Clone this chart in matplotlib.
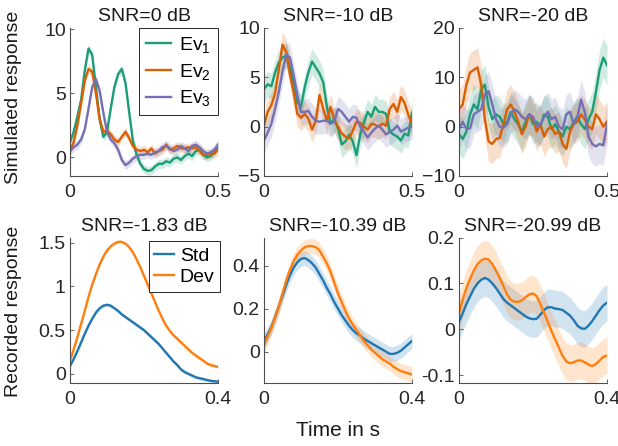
import matplotlib
matplotlib.use('Agg')
import matplotlib.pyplot as plt
import numpy as np

plt.rcParams['font.family'] = ['Liberation Sans', 'DejaVu Sans']
plt.rcParams['mathtext.default'] = 'regular'

# time grids (41 samples each)
t_sim = np.linspace(0, 0.5, 41)
t_rec = np.linspace(0, 0.4, 41)

# simulated responses, SNR = 0 dB
ev1_0 = [1.2, 2.0, 3.2, 4.5, 6.8, 8.5, 8.0, 5.5, 3.0, 1.6,
         2.0, 3.8, 5.5, 6.5, 6.9, 5.8, 3.5, 1.3, 0.2, -0.5,
         -0.9, -1.05, -1.0, -0.7, -0.5, -0.5, -0.3, -0.4, -0.1, 0.0,
         -0.2, 0.1, 0.3, 0.1, 0.5, 0.6, 0.2, 0.0, 0.1, 0.4,
         0.9]
ev2_0 = [0.5, 1.2, 2.5, 4.2, 6.0, 6.9, 6.7, 5.0, 3.0, 2.0,
         2.1, 1.8, 1.4, 1.2, 1.6, 2.0, 1.5, 0.9, 0.6, 0.5,
         0.6, 0.4, 0.7, 0.3, 0.5, 0.6, 1.0, 0.6, 0.7, 0.9,
         0.7, 0.7, 0.8, 0.7, 0.8, 0.5, 0.2, 0.2, 0.3, 0.3,
         0.6]
ev3_0 = [0.5, 0.8, 1.0, 1.4, 2.2, 3.8, 5.5, 6.1, 5.2, 3.5,
         2.0, 1.4, 1.1, 0.6, -0.2, -0.6, -0.4, -0.1, 0.1, 0.2,
         0.2, 0.3, 0.2, 0.4, 0.5, 0.8, 0.9, 0.7, 0.5, 0.6,
         0.9, 0.7, 0.5, 0.9, 1.0, 0.8, 0.5, 0.3, 0.4, 0.6,
         1.0]

# SNR = -10 dB
ev1_10 = [3.8, 4.3, 4.1, 5.5, 6.5, 7.0, 7.2, 6.0, 4.5, 2.5,
          2.0, 4.0, 5.5, 6.6, 6.0, 5.4, 4.5, 2.0, 0.3, 0.8,
          -0.2, -1.8, -1.5, -0.8, -1.5, -2.9, -0.8, 0.4, 1.5, 1.0,
          2.0, 1.5, 1.5, 1.3, -0.5, -0.8, -1.0, -1.4, -0.7, -0.9,
          1.4]
ev2_10 = [0.1, 1.5, 2.2, 3.4, 5.8, 8.3, 7.6, 5.3, 3.5, 1.3,
          0.9, 1.3, 0.8, -0.3, 0.6, 3.2, 1.8, 0.6, 2.0, 0.7,
          0.0, -0.7, -1.0, -1.2, -0.4, 0.5, 0.4, 0.0, -0.3, 0.3,
          0.2, 0.0, 0.3, 0.1, 1.8, 2.3, 1.5, 3.0, 2.4, 1.2,
          0.3]
ev3_10 = [-1.4, -0.6, 0.3, 1.8, 3.5, 5.6, 7.3, 7.0, 5.2, 3.2,
          1.5, 1.5, 1.6, 1.0, 0.6, 0.5, 0.6, 0.6, 0.3, 0.5,
          1.8, 1.5, 1.0, 0.5, 1.0, 0.9, 0.0, -0.5, -1.1, -0.6,
          -0.2, 0.1, -0.3, -0.8, -0.5, -0.3, 0.1, -0.5, -0.3, -0.1,
          0.0]

# SNR = -20 dB
ev1_20 = [-1.5, -2.5, -1.0, 2.5, 4.5, 3.5, 7.5, 8.5, 4.0, 1.5,
          2.5, 2.0, 0.5, 1.0, 3.0, 1.5, 0.5, -1.0, 1.0, 2.5,
          0.5, 1.0, 0.0, 2.5, 2.0, -0.5, 0.5, -1.0, -2.0, 0.0,
          -0.5, 1.0, 2.0, 0.5, -0.5, 1.5, 3.0, 7.0, 11.5, 14.0,
          12.5]
ev2_20 = [3.6, 4.5, 8.5, 11.0, 11.5, 12.0, 8.5, 1.5, -3.0, -3.5,
          -2.5, -2.3, 0.5, 3.5, 4.5, 3.0, 1.0, -1.5, 0.0, 2.5,
          1.5, -1.0, 0.5, -2.0, -0.5, 0.0, -1.5, -1.0, -3.5, -4.5,
          -1.0, 0.5, 1.0, 2.5, 1.5, 0.0, -0.5, 2.5, 1.5, 0.0,
          1.0]
ev3_20 = [-0.5, 1.0, -0.5, -0.3, 2.5, 3.0, 3.5, 6.5, 7.2, 4.5,
          1.5, 0.0, -0.2, 0.5, 2.5, 3.5, 3.0, 2.0, 1.5, 2.5,
          2.0, 0.0, 0.5, 2.0, 3.0, 1.5, 2.0, 0.0, -0.5, 2.5,
          3.0, 0.5, 2.0, 5.5, 3.0, -2.0, -3.5, -4.0, -3.5, -3.8,
          0.5]

# recorded responses
std_183 = [0.09, 0.17, 0.26, 0.36, 0.46, 0.55, 0.63, 0.70, 0.75, 0.78,
           0.79, 0.78, 0.75, 0.72, 0.68, 0.65, 0.62, 0.59, 0.56, 0.53,
           0.50, 0.46, 0.42, 0.38, 0.34, 0.29, 0.24, 0.19, 0.14, 0.10,
           0.05, 0.02, 0.0, -0.02, -0.04, -0.05, -0.06, -0.07, -0.08, -0.085,
           -0.09]
dev_183 = [0.15, 0.28, 0.42, 0.57, 0.72, 0.88, 1.02, 1.14, 1.25, 1.34,
           1.41, 1.46, 1.49, 1.51, 1.51, 1.49, 1.45, 1.39, 1.31, 1.22,
           1.12, 1.02, 0.92, 0.82, 0.72, 0.63, 0.55, 0.49, 0.44, 0.40,
           0.36, 0.32, 0.28, 0.24, 0.21, 0.18, 0.15, 0.12, 0.10, 0.09,
           0.08]
std_1039 = [0.05, 0.08, 0.115, 0.16, 0.21, 0.26, 0.31, 0.355, 0.39, 0.415,
            0.43, 0.435, 0.425, 0.41, 0.39, 0.36, 0.33, 0.295, 0.265, 0.23,
            0.20, 0.17, 0.145, 0.12, 0.10, 0.085, 0.075, 0.06, 0.05, 0.04,
            0.03, 0.02, 0.01, 0.0, -0.01, -0.01, -0.005, 0.005, 0.02, 0.035,
            0.05]
dev_1039 = [0.03, 0.07, 0.11, 0.16, 0.21, 0.27, 0.33, 0.38, 0.42, 0.45,
            0.47, 0.485, 0.49, 0.49, 0.485, 0.47, 0.44, 0.41, 0.37, 0.32,
            0.27, 0.23, 0.19, 0.155, 0.125, 0.10, 0.075, 0.05, 0.03, 0.01,
            -0.005, -0.02, -0.035, -0.045, -0.055, -0.07, -0.08, -0.09, -0.095, -0.10,
            -0.105]
std_2099 = [0.016, 0.035, 0.055, 0.072, 0.088, 0.10, 0.108, 0.112, 0.108, 0.10,
            0.09, 0.078, 0.066, 0.058, 0.052, 0.046, 0.04, 0.034, 0.028, 0.024,
            0.022, 0.023, 0.032, 0.042, 0.048, 0.048, 0.045, 0.044, 0.042, 0.036,
            0.03, 0.02, 0.008, 0.002, 0.001, 0.008, 0.018, 0.03, 0.042, 0.052,
            0.058]
dev_2099 = [0.034, 0.065, 0.09, 0.11, 0.128, 0.142, 0.15, 0.154, 0.152, 0.142,
            0.128, 0.112, 0.094, 0.076, 0.064, 0.06, 0.06, 0.063, 0.07, 0.076,
            0.078, 0.072, 0.055, 0.036, 0.016, -0.004, -0.022, -0.04, -0.058, -0.07,
            -0.074, -0.072, -0.068, -0.068, -0.072, -0.077, -0.08, -0.076, -0.068, -0.06,
            -0.057]

# half widths of the shaded error bands
sim_err = [0.35, 1.3, 4.0]
rec_err = [0.02, 0.035, 0.04]

sim_titles = ['SNR=0 dB', 'SNR=-10 dB', 'SNR=-20 dB']
rec_titles = ['SNR=-1.83 dB', 'SNR=-10.39 dB', 'SNR=-20.99 dB']
sim_data = [(ev1_0, ev2_0, ev3_0), (ev1_10, ev2_10, ev3_10), (ev1_20, ev2_20, ev3_20)]
rec_data = [(std_183, dev_183), (std_1039, dev_1039), (std_2099, dev_2099)]
sim_labels = ['Ev$_1$', 'Ev$_2$', 'Ev$_3$']
rec_labels = ['Std', 'Dev']
sim_colors = ['#1b9e77', '#d95f02', '#7570b3']
rec_colors = ['#1f77b4', '#ff7f0e']

sim_ylim = [(-1.45, 10.1), (-5, 10), (-10, 20)]
sim_yticks = [[0, 5, 10], [-5, 0, 5, 10], [-10, 0, 10, 20]]
rec_ylim = [(-0.105, 1.56), (-0.145, 0.53), (-0.117, 0.2)]
rec_yticks = [[0, 0.5, 1, 1.5], [0, 0.2, 0.4], [-0.1, 0, 0.1, 0.2]]
rec_yticklabels = [['0', '0.5', '1', '1.5'], ['0', '0.2', '0.4'], ['-0.1', '0', '0.1', '0.2']]

W, H = 618, 446
fig = plt.figure(figsize=(W / 100, H / 100), dpi=100)

lefts = [70, 264, 459]
axw = 148
FS = 14


def style(ax):
    for s in ['top', 'right']:
        ax.spines[s].set_visible(False)
    for s in ['left', 'bottom']:
        ax.spines[s].set_color('#4d4d4d')
        ax.spines[s].set_linewidth(0.8)
    ax.tick_params(direction='in', length=3, width=0.6, colors='#4d4d4d',
                   labelcolor='#262626', labelsize=FS)
    ax.tick_params(axis='y', pad=3)
    ax.tick_params(axis='x', pad=6)


# top row
for i in range(3):
    ax = fig.add_axes([lefts[i] / W, 1 - 176 / H, axw / W, 148 / H])
    for y, lab, c in zip(sim_data[i], sim_labels, sim_colors):
        y = np.array(y)
        ax.fill_between(t_sim, y - sim_err[i], y + sim_err[i], color=c, alpha=0.2, lw=0)
        ax.plot(t_sim, y, color=c, lw=1.7, label=lab)
    ax.set_xlim(0, 0.5)
    ax.set_ylim(*sim_ylim[i])
    ax.set_xticks([0, 0.5])
    ax.set_xticklabels(['0', '0.5'])
    ax.set_yticks(sim_yticks[i])
    ax.set_title(sim_titles[i], fontsize=FS, pad=5, color='#1a1a1a')
    style(ax)
    if i == 0:
        leg = ax.legend(loc='upper right', bbox_to_anchor=(1.0, 1.0), borderaxespad=0,
                        fontsize=FS, handlelength=1.3, handletextpad=0.4,
                        labelspacing=0.35, borderpad=0.35, fancybox=False,
                        edgecolor='#262626', framealpha=1)
        leg.get_frame().set_linewidth(0.7)

# bottom row
for i in range(3):
    ax = fig.add_axes([lefts[i] / W, 1 - 383 / H, axw / W, 145.5 / H])
    for y, lab, c in zip(rec_data[i], rec_labels, rec_colors):
        y = np.array(y)
        ax.fill_between(t_rec, y - rec_err[i], y + rec_err[i], color=c, alpha=0.2, lw=0)
        ax.plot(t_rec, y, color=c, lw=1.7, label=lab)
    ax.set_xlim(0, 0.4)
    ax.set_ylim(*rec_ylim[i])
    ax.set_xticks([0, 0.4])
    ax.set_xticklabels(['0', '0.4'])
    ax.set_yticks(rec_yticks[i])
    ax.set_yticklabels(rec_yticklabels[i])
    ax.set_title(rec_titles[i], fontsize=FS, pad=5, color='#1a1a1a')
    style(ax)
    if i == 0:
        leg = ax.legend(loc='upper right', bbox_to_anchor=(1.015, 0.975), borderaxespad=0,
                        fontsize=FS, handlelength=1.0, handletextpad=0.3,
                        labelspacing=0.2, borderpad=0.3, fancybox=False,
                        edgecolor='#262626', framealpha=1)
        leg.get_frame().set_linewidth(0.7)

fig.text(14 / W, 1 - 97 / H, 'Simulated response', rotation=90, ha='center', va='center',
         fontsize=FS, color='#1a1a1a')
fig.text(14 / W, 1 - 311 / H, 'Recorded response', rotation=90, ha='center', va='center',
         fontsize=FS, color='#1a1a1a')
fig.text(338.5 / W, 1 - 431 / H, 'Time in s', ha='center', va='center',
         fontsize=FS + 1, color='#1a1a1a')

fig.savefig('out.png', dpi=100)
